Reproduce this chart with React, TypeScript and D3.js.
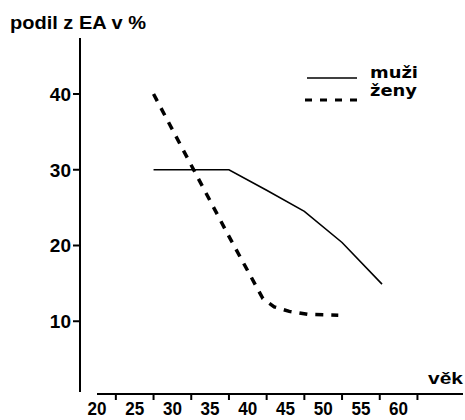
import React from "react";
import * as d3 from "d3";

const xLabels = [20, 25, 30, 35, 40, 45, 50, 55, 60];
const xTickAges = [22.5, 27.5, 32.5, 37.5, 42.5, 47.5, 52.5, 57.5, 62.5];
const yTicks = [10, 20, 30, 40];

const muziAge = [27.5, 37.5, 42.5, 47.5, 52.5, 57.8];
const muziVal = [30, 30, 27.3, 24.5, 20.4, 14.9];

const zenyAge = [27.5, 32.5, 37.5, 42, 43.5, 45.5, 48, 52];
const zenyVal = [40, 30.6, 21.2, 13, 11.9, 11.3, 10.9, 10.8];

const legendLabels = ["muži", "ženy"];

const W = 465;
const H = 420;

export default function App() {
  const x = d3.scaleLinear().domain([20, 60]).range([97, 398.6]);
  const y = d3.scaleLinear().domain([0, 40]).range([397, 94]);

  const line = d3
    .line<[number, number]>()
    .x((d) => x(d[0]))
    .y((d) => y(d[1]));

  const muzi: [number, number][] = muziAge.map((a, i) => [a, muziVal[i]]);
  const zeny: [number, number][] = zenyAge.map((a, i) => [a, zenyVal[i]]);

  const axisY = 394;
  const axisX = 80;
  const font = "'Liberation Sans', Arial, sans-serif";

  return (
    <svg
      width={W}
      height={H}
      style={{ position: "absolute", left: 0, top: 0, background: "#fff" }}
    >
      <rect x={0} y={0} width={W} height={H} fill="#fff" />
      {/* title */}
      <text
        x={10}
        y={29}
        fontFamily={font}
        fontWeight="bold"
        fontSize={19}
        fill="#000"
        textLength={136}
        lengthAdjust="spacingAndGlyphs"
      >
        podil z EA v %
      </text>

      {/* y axis */}
      <line x1={axisX} x2={axisX} y1={38} y2={392} stroke="#000" strokeWidth={2} />
      {yTicks.map((t) => (
        <g key={t}>
          <line x1={73} x2={axisX} y1={y(t)} y2={y(t)} stroke="#000" strokeWidth={2} />
          <text
            x={71}
            y={y(t)}
            dy="0.36em"
            textAnchor="end"
            fontFamily={font}
            fontWeight="bold"
            fontSize={19}
            fill="#000"
          >
            {t}
          </text>
        </g>
      ))}

      {/* x axis */}
      <line x1={97} x2={463} y1={axisY} y2={axisY} stroke="#000" strokeWidth={2} />
      {xTickAges.map((a) => (
        <line key={a} x1={x(a)} x2={x(a)} y1={axisY} y2={axisY + 6} stroke="#000" strokeWidth={2} />
      ))}
      {xLabels.map((l) => (
        <text
          key={l}
          x={x(l)}
          y={415}
          textAnchor="middle"
          fontFamily={font}
          fontWeight="bold"
          fontSize={18}
          fill="#000"
          textLength={19}
          lengthAdjust="spacingAndGlyphs"
        >
          {l}
        </text>
      ))}
      <text
        x={428}
        y={384}
        fontFamily={font}
        fontWeight="bold"
        fontSize={17}
        fill="#000"
        textLength={35}
        lengthAdjust="spacingAndGlyphs"
      >
        věk
      </text>

      {/* series */}
      <path d={line(muzi) || ""} fill="none" stroke="#000" strokeWidth={1.6} />
      <path
        d={line(zeny) || ""}
        fill="none"
        stroke="#000"
        strokeWidth={3.5}
        strokeDasharray="8 8"
      />

      {/* legend */}
      <line x1={307} x2={357} y1={78} y2={78} stroke="#000" strokeWidth={1.5} />
      <text
        x={370}
        y={78}
        fontFamily="'DejaVu Sans', sans-serif"
        fontWeight="bold"
        fontSize={16}
        fill="#000"
        textLength={48}
        lengthAdjust="spacingAndGlyphs"
      >
        {legendLabels[0]}
      </text>
      <line
        x1={305}
        x2={358}
        y1={100}
        y2={100}
        stroke="#000"
        strokeWidth={3}
        strokeDasharray="7 8"
      />
      <text
        x={370}
        y={96}
        fontFamily="'DejaVu Sans', sans-serif"
        fontWeight="bold"
        fontSize={16}
        fill="#000"
        textLength={47}
        lengthAdjust="spacingAndGlyphs"
      >
        {legendLabels[1]}
      </text>
    </svg>
  );
}
